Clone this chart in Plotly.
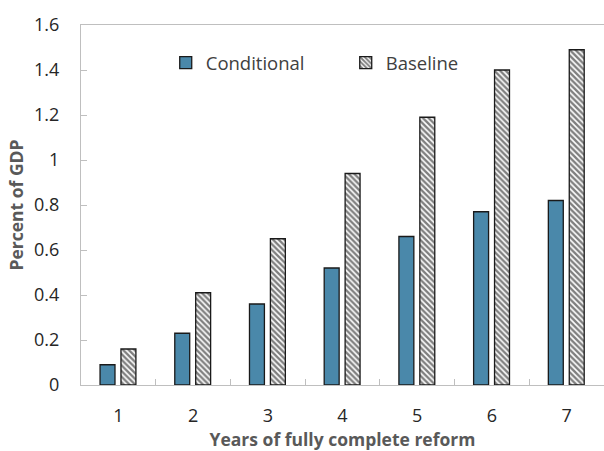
import plotly.graph_objects as go

categories = ["1", "2", "3", "4", "5", "6", "7"]
conditional = [0.09, 0.23, 0.36, 0.52, 0.66, 0.77, 0.82]
baseline = [0.16, 0.41, 0.65, 0.94, 1.19, 1.40, 1.49]
y_ticks = [0, 0.2, 0.4, 0.6, 0.8, 1.0, 1.2, 1.4, 1.6]
y_tick_labels = ["0", "0.2", "0.4", "0.6", "0.8", "1", "1.2", "1.4", "1.6"]

font_family = "Open Sans, Noto Sans, DejaVu Sans, sans-serif"

fig = go.Figure()
fig.add_trace(go.Bar(
    x=categories, y=conditional, name="Conditional",
    marker=dict(color="#4A88AA", line=dict(color="#1a1a1a", width=1.3)),
    width=0.2, offset=-0.245,
))
fig.add_trace(go.Bar(
    x=categories, y=baseline, name="Baseline",
    marker=dict(color="white", line=dict(color="#1a1a1a", width=1.3),
                pattern=dict(shape="\\", fgcolor="#000000", bgcolor="white", size=4, solidity=0.6)),
    width=0.2, offset=0.035,
))

fig.update_layout(
    width=604, height=451,
    margin=dict(l=81, r=0, t=25, b=66),
    plot_bgcolor="white", paper_bgcolor="white",
    font=dict(family=font_family, size=18, color="#262626"),
    showlegend=True,
    legend=dict(orientation="h", x=0.162, y=0.947, xanchor="left", yanchor="top",
                font=dict(size=18.5, color="#404040"),
                entrywidth=135, entrywidthmode="pixels",
                bgcolor="rgba(0,0,0,0)"),
)
fig.update_xaxes(
    type="category",
    showline=True, linecolor="#BFBFBF", linewidth=1, mirror=True,
    ticks="inside", tickson="boundaries", ticklen=6, tickcolor="#BFBFBF",
    showgrid=False,
    ticklabelstandoff=14,
    tickfont=dict(size=18, color="#262626"),
    title=dict(text="<b>Years of fully complete reform</b>", font=dict(size=17.5, color="#595959"), standoff=9),
)
fig.update_yaxes(
    range=[0, 1.6],
    tickvals=y_ticks, ticktext=y_tick_labels,
    showline=True, linecolor="#BFBFBF", linewidth=1,
    ticks="inside", ticklen=6, tickcolor="#BFBFBF",
    showgrid=False, zeroline=False,
    ticklabelstandoff=17,
    tickfont=dict(size=18, color="#262626"),
    title=dict(text="<b>Percent of GDP</b>", font=dict(size=17.5, color="#595959"), standoff=5),
)

fig.write_html("out.html")
